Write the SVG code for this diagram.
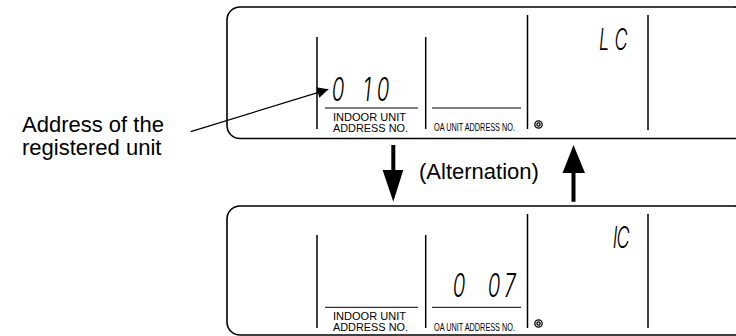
<svg xmlns="http://www.w3.org/2000/svg" width="736" height="336" viewBox="0 0 736 336">
<style>
.panel{fill:#fff;stroke:#000;stroke-width:1.6}
.div{stroke:#000;stroke-width:1.5;fill:none}
.ul{stroke:#000;stroke-width:1;fill:none}
.lbl{font-family:"Liberation Sans",Arial,sans-serif;font-size:11px;fill:#000}
.oa{font-family:"Liberation Sans",Arial,sans-serif;font-size:10.5px;fill:#000}
.seg{font-family:Inter,"DejaVu Sans",sans-serif;font-weight:300;font-style:italic;fill:#000;text-anchor:middle}
.big{font-family:"Liberation Sans",Arial,sans-serif;font-size:22px;fill:#000}
.ring{fill:none;stroke:#000;stroke-width:1.3}
</style>
<defs>
<marker id="ah" viewBox="0 0 10 10" refX="10" refY="5" markerWidth="18" markerHeight="11" markerUnits="userSpaceOnUse" orient="auto">
<path d="M0,0 L10,5 L0,10 z" fill="#000"/>
</marker>
</defs>

<g id="top-panel">
<rect class="panel" x="227" y="7" width="520" height="131.5" rx="13"/>
<line class="div" x1="317" y1="37" x2="317" y2="129"/>
<line class="div" x1="425.7" y1="37" x2="425.7" y2="129"/>
<line class="div" x1="527.5" y1="15" x2="527.5" y2="129"/>
<line class="div" x1="648" y1="15" x2="648" y2="130"/>
<line class="ul" x1="325" y1="108" x2="418" y2="108"/>
<line class="ul" x1="432" y1="108" x2="521" y2="108"/>
<text class="lbl" x="333" y="121" textLength="73" lengthAdjust="spacingAndGlyphs">INDOOR UNIT</text>
<text class="lbl" x="333" y="131.5" textLength="75" lengthAdjust="spacingAndGlyphs">ADDRESS NO.</text>
<text class="oa" x="434" y="131" textLength="81" lengthAdjust="spacingAndGlyphs">OA UNIT ADDRESS NO.</text>
<circle class="ring" cx="538.5" cy="124.5" r="3.7"/>
<circle class="ring" cx="538.5" cy="124.5" r="1.6"/>
<g class="seg" font-size="33">
<text transform="translate(338,101) scale(0.62,1)">0</text>
<text transform="translate(367,101) scale(0.62,1)">1</text>
<text transform="translate(383,101) scale(0.62,1)">0</text>
</g>
<g class="seg" font-size="30">
<text transform="translate(604,50) scale(0.6,1)">L</text>
<text transform="translate(621,50) scale(0.6,1)">C</text>
</g>
</g>

<g id="bottom-panel">
<rect class="panel" x="227" y="206" width="520" height="129" rx="13"/>
<line class="div" x1="317" y1="235" x2="317" y2="328"/>
<line class="div" x1="425.7" y1="235" x2="425.7" y2="328"/>
<line class="div" x1="527.5" y1="214" x2="527.5" y2="328"/>
<line class="div" x1="648" y1="214" x2="648" y2="328"/>
<line class="ul" x1="325" y1="307.3" x2="418" y2="307.3"/>
<line class="ul" x1="432" y1="307.3" x2="521" y2="307.3"/>
<text class="lbl" x="333" y="320" textLength="73" lengthAdjust="spacingAndGlyphs">INDOOR UNIT</text>
<text class="lbl" x="333" y="331" textLength="75" lengthAdjust="spacingAndGlyphs">ADDRESS NO.</text>
<text class="oa" x="434" y="331" textLength="81" lengthAdjust="spacingAndGlyphs">OA UNIT ADDRESS NO.</text>
<circle class="ring" cx="538.5" cy="323.5" r="3.7"/>
<circle class="ring" cx="538.5" cy="323.5" r="1.6"/>
<g class="seg" font-size="33">
<text transform="translate(459,297) scale(0.62,1)">0</text>
<text transform="translate(494,297) scale(0.62,1)">0</text>
<text transform="translate(510,297) scale(0.62,1)">7</text>
</g>
<g class="seg" font-size="30">
<text transform="translate(615,248) scale(0.6,1)">I</text>
<text transform="translate(623,248) scale(0.6,1)">C</text>
</g>
</g>

<g id="address-label">
<text class="big" x="22" y="131.7">Address of the</text>
<text class="big" x="22" y="155">registered unit</text>
</g>

<g id="alternation-label">
<text class="big" x="419" y="179" font-size="23.5">(Alternation)</text>
</g>

<g id="connectors">
<line x1="190.7" y1="131.7" x2="328.3" y2="89.3" stroke="#000" stroke-width="1.3" marker-end="url(#ah)"/>
<path d="M391.3,145 h4 v25 h8 l-10,31.7 l-10.7,-31.7 h8.7 z" fill="#000"/>
<path d="M573.5,145 l11.5,28 h-9.5 v28.7 h-4 v-28.7 h-9 z" fill="#000"/>
</g>
</svg>
